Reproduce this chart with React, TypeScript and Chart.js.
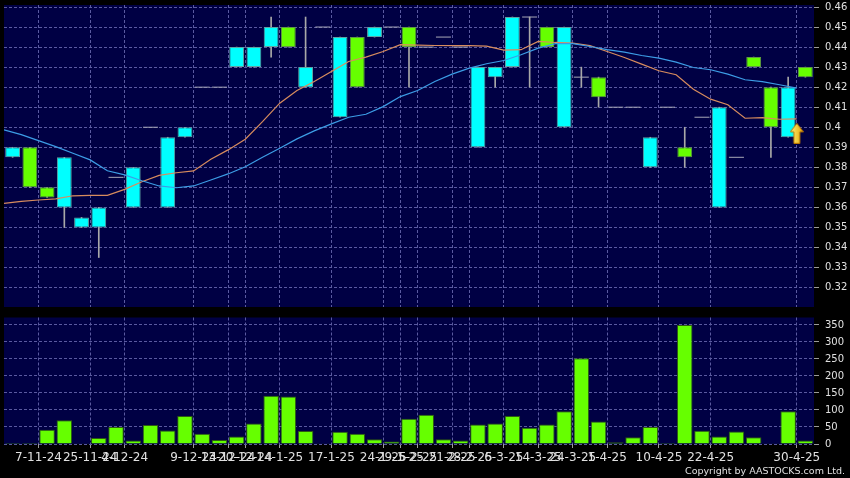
import React, { useEffect, useRef } from 'react';
import { Chart, registerables } from 'chart.js';

Chart.register(...registerables);

// ---- Data (one entry per traded session, left to right) ----
const opens = [
  0.385, 0.39, 0.37, 0.36, 0.35, 0.35, 0.375, 0.36, 0.4, 0.36,
  0.395, 0.42, 0.42, 0.43, 0.43, 0.44, 0.45, 0.42, 0.45, 0.405,
  0.445, 0.445, 0.45, 0.45, 0.44, 0.445, 0.44, 0.39, 0.425, 0.43,
  0.455, 0.45, 0.4, 0.425, 0.425, 0.41, 0.41, 0.38, 0.41, 0.39,
  0.405, 0.36, 0.385, 0.435, 0.42, 0.395, 0.43,
];
const highs = [
  0.39, 0.39, 0.37, 0.385, 0.355, 0.36, 0.375, 0.38, 0.4, 0.395,
  0.4, 0.42, 0.42, 0.44, 0.44, 0.455, 0.45, 0.455, 0.45, 0.445,
  0.445, 0.45, 0.45, 0.45, 0.44, 0.445, 0.44, 0.43, 0.43, 0.455,
  0.455, 0.45, 0.45, 0.43, 0.425, 0.41, 0.41, 0.395, 0.41, 0.4,
  0.405, 0.41, 0.385, 0.435, 0.42, 0.425, 0.43,
];
const lows = [
  0.385, 0.37, 0.365, 0.35, 0.35, 0.335, 0.375, 0.36, 0.4, 0.36,
  0.395, 0.42, 0.42, 0.43, 0.43, 0.435, 0.44, 0.42, 0.45, 0.405,
  0.42, 0.445, 0.45, 0.42, 0.44, 0.445, 0.44, 0.39, 0.42, 0.43,
  0.42, 0.44, 0.4, 0.42, 0.41, 0.41, 0.41, 0.38, 0.41, 0.38,
  0.405, 0.36, 0.385, 0.43, 0.385, 0.395, 0.425,
];
const closes = [
  0.39, 0.37, 0.365, 0.385, 0.355, 0.36, 0.375, 0.38, 0.4, 0.395,
  0.4, 0.42, 0.42, 0.44, 0.44, 0.45, 0.44, 0.43, 0.45, 0.445,
  0.42, 0.45, 0.45, 0.44, 0.44, 0.445, 0.44, 0.43, 0.43, 0.455,
  0.455, 0.44, 0.45, 0.425, 0.415, 0.41, 0.41, 0.395, 0.41, 0.385,
  0.405, 0.41, 0.385, 0.43, 0.4, 0.42, 0.425,
];
const volumes = [
  3, 3, 42, 70, 2, 18, 50, 10, 56, 40,
  82, 30, 12, 22, 60, 142, 140, 38, 1, 36,
  30, 14, 7, 74, 86, 14, 10, 57, 60, 82,
  48, 57, 96, 252, 66, 5, 20, 50, 3, 350,
  39, 22, 37, 20, 2, 96, 10,
];
// moving averages, read per session
const maFast = [
  0.362, 0.363, 0.3637, 0.3643, 0.3658, 0.366, 0.366, 0.369, 0.3728, 0.376,
  0.3773, 0.3782, 0.384, 0.3887, 0.394, 0.4028, 0.412, 0.4183, 0.4228, 0.4278,
  0.4328, 0.435, 0.4378, 0.4412, 0.441, 0.4408, 0.4407, 0.4407, 0.4405, 0.4385,
  0.4387, 0.4428, 0.4423, 0.442, 0.4407, 0.4378, 0.4348, 0.4315, 0.4282, 0.4262,
  0.419, 0.414, 0.4112, 0.4045, 0.4048, 0.404, 0.4042,
];
const maSlow = [
  0.3987, 0.3963, 0.3933, 0.3903, 0.387, 0.3837, 0.3783, 0.3762, 0.3733, 0.3707,
  0.3698, 0.3707, 0.3737, 0.3767, 0.3803, 0.385, 0.3895, 0.3942, 0.3982, 0.4017,
  0.405, 0.4065, 0.4103, 0.4153, 0.4183, 0.4228, 0.4265, 0.4295, 0.4317, 0.4333,
  0.4362, 0.4395, 0.4417, 0.4417, 0.4403, 0.4387, 0.4375, 0.4358, 0.4345, 0.4325,
  0.4298, 0.4287, 0.4265, 0.4237, 0.4228, 0.4212, 0.4195,
];
// date ticks: session index where the label sits, and its text
const tickIndex = [2, 5, 7, 11, 13, 14, 16, 19, 22, 23, 24, 26, 27, 29, 31, 33, 35, 38, 41, 46];
const tickText = [
  '7-11-24', '25-11-24', '4-12-24', '9-12-24', '13-12-24', '20-12-24', '14-1-25',
  '17-1-25', '24-1-25', '29-1-25', '5-2-25', '21-2-25', '28-2-25', '6-3-25',
  '14-3-25', '24-3-25', '1-4-25', '10-4-25', '22-4-25', '30-4-25',
];
const priceTicks = [0.32, 0.33, 0.34, 0.35, 0.36, 0.37, 0.38, 0.39, 0.4, 0.41, 0.42, 0.43, 0.44, 0.45, 0.46];
const volumeTicks = [0, 50, 100, 150, 200, 250, 300, 350];
const signalIndex = [46];
const signalPrice = [0.397];

// ---- Styles ----
const NAVY = '#000044';
const GRID = '#5a5aa0';
const TICK = '#9a9a9a';
const LABEL = '#e0e0e0';
const CYAN = '#00ffff';
const CYAN_EDGE = '#5fa3a3';
const GREEN = '#66ff00';
const GREEN_EDGE = '#5f9a40';
const WICK = '#a8a8a8';
const DOJI = '#a8a8b8';
const BLUE = '#3c9de6';
const ORANGE = '#d88c5e';
const VOL = '#66ff00';
const VOL_EDGE = '#2e5a12';
const FONT = "'DejaVu Sans', 'Verdana', sans-serif";

Chart.defaults.font.family = FONT;

const categories = opens.map((_, i) => String(i + 1));
const tickSet = new Set(tickIndex);
const tickLabelMap = new Map(tickIndex.map((idx, i) => [idx, tickText[i]]));
const gridX = (ctx: any) => (tickSet.has(ctx.index) ? GRID : 'rgba(0,0,0,0)');
const tickX = (ctx: any) => (tickSet.has(ctx.index) ? TICK : 'rgba(0,0,0,0)');

const plotBg = {
  id: 'plotBg',
  beforeDraw(chart: any) {
    const { ctx, chartArea: a } = chart;
    ctx.save();
    ctx.fillStyle = NAVY;
    ctx.fillRect(a.left, a.top, a.right - a.left, a.bottom - a.top);
    ctx.restore();
  },
};

function makeArrow(): HTMLCanvasElement {
  const c = document.createElement('canvas');
  c.width = 14;
  c.height = 21;
  const g = c.getContext('2d')!;
  const grad = g.createLinearGradient(0, 0, 14, 0);
  grad.addColorStop(0, '#fff27a');
  grad.addColorStop(1, '#e6a400');
  g.beginPath();
  g.moveTo(7, 0.5);
  g.lineTo(13.5, 9);
  g.lineTo(10, 9);
  g.lineTo(10, 20.5);
  g.lineTo(4, 20.5);
  g.lineTo(4, 9);
  g.lineTo(0.5, 9);
  g.closePath();
  g.fillStyle = grad;
  g.fill();
  g.strokeStyle = '#b87400';
  g.lineWidth = 1;
  g.stroke();
  return c;
}

const isUp = (i: number) => closes[i] > opens[i];

export default function App() {
  const priceRef = useRef<HTMLCanvasElement>(null);
  const volRef = useRef<HTMLCanvasElement>(null);

  useEffect(() => {
    const arrow = makeArrow();
    const price = new Chart(priceRef.current!, {
      type: 'bar',
      data: {
        labels: categories,
        datasets: [
          {
            type: 'bar',
            label: 'range',
            data: lows.map((l, i) => (highs[i] > l ? [l, highs[i]] : null)) as any,
            backgroundColor: WICK,
            borderWidth: 0,
            barThickness: 1,
            grouped: false,
            order: 4,
          } as any,
          {
            type: 'bar',
            label: 'body',
            data: opens.map((o, i) => (o !== closes[i] ? [o, closes[i]] : null)) as any,
            backgroundColor: (ctx: any) => (isUp(ctx.dataIndex) ? CYAN : GREEN),
            borderColor: (ctx: any) => (isUp(ctx.dataIndex) ? CYAN_EDGE : GREEN_EDGE),
            borderWidth: 1,
            borderSkipped: false,
            barPercentage: 0.86,
            categoryPercentage: 1,
            grouped: false,
            order: 3,
          } as any,
          {
            type: 'line',
            label: 'unchanged',
            data: opens.map((o, i) => (o === closes[i] ? o : null)),
            showLine: false,
            pointStyle: 'line',
            pointRadius: 7.5,
            pointHoverRadius: 7.5,
            pointBorderColor: DOJI,
            pointBorderWidth: 1,
            order: 2,
          } as any,
          {
            type: 'line',
            label: 'MA slow',
            xAxisID: 'xl',
            data: maSlow.map((v, i) => ({ x: i, y: v })),
            borderColor: BLUE,
            borderWidth: 1.2,
            pointRadius: 0,
            tension: 0,
            order: 1,
          } as any,
          {
            type: 'line',
            label: 'MA fast',
            xAxisID: 'xl',
            data: maFast.map((v, i) => ({ x: i, y: v })),
            borderColor: ORANGE,
            borderWidth: 1.2,
            pointRadius: 0,
            tension: 0,
            order: 1,
          } as any,
          {
            type: 'line',
            label: 'signal',
            xAxisID: 'xl',
            data: signalIndex.map((x, i) => ({ x, y: signalPrice[i] })),
            showLine: false,
            pointStyle: arrow,
            pointRadius: 10,
            order: 0,
          } as any,
        ],
      },
      options: {
        responsive: false,
        animation: false,
        events: [],
        layout: { autoPadding: false, padding: { left: 4, top: 5, right: 0, bottom: 3 } },
        plugins: { legend: { display: false }, tooltip: { enabled: false } },
        scales: {
          x: {
            type: 'category',
            offset: true,
            grid: { offset: true, color: gridX, drawTicks: false },
            border: { display: false, dash: [3, 2] },
            ticks: { display: false },
            afterFit: (s: any) => {
              s.height = 0;
              s.paddingLeft = 0;
              s.paddingRight = 0;
            },
          },
          xl: { type: 'linear', display: false, min: 0, max: 47, offset: false },
          y: {
            type: 'linear',
            position: 'right',
            min: 0.3103,
            max: 0.461,
            beginAtZero: false,
            grid: { color: GRID, tickColor: TICK, tickLength: 5 },
            border: { display: false, dash: [3, 2] },
            ticks: {
              color: LABEL,
              font: { size: 10 },
              padding: 6,
              callback: (v: any) => String(+Number(v).toFixed(2)),
            },
            afterBuildTicks: (s: any) => {
              s.ticks = priceTicks.map((v) => ({ value: v }));
            },
            afterFit: (s: any) => {
              s.width = 36;
              s.paddingTop = 0;
              s.paddingBottom = 0;
            },
          },
        },
      } as any,
      plugins: [plotBg],
    });

    const vol = new Chart(volRef.current!, {
      type: 'bar',
      data: {
        labels: categories,
        datasets: [
          {
            label: 'Volume',
            data: volumes,
            backgroundColor: VOL,
            borderColor: VOL_EDGE,
            borderWidth: 1,
            barPercentage: 0.9,
            categoryPercentage: 1,
          },
        ],
      },
      options: {
        responsive: false,
        animation: false,
        events: [],
        layout: { autoPadding: false, padding: { left: 4, top: 7.5, right: 0, bottom: 10 } },
        plugins: { legend: { display: false }, tooltip: { enabled: false } },
        scales: {
          x: {
            type: 'category',
            offset: true,
            grid: { offset: true, color: gridX, tickColor: tickX, tickLength: 4 },
            border: { display: false, dash: [3, 2] },
            ticks: {
              autoSkip: false,
              maxRotation: 0,
              minRotation: 0,
              color: LABEL,
              font: { size: 12 },
              padding: 3,
              labelOffset: -8.6,
              callback: (_v: any, i: number) => tickLabelMap.get(i) ?? '',
            },
            afterFit: (s: any) => {
              s.height = 24;
              s.paddingLeft = 0;
              s.paddingRight = 0;
            },
          },
          y: {
            type: 'linear',
            position: 'right',
            min: 0,
            max: 372,
            grid: { color: GRID, tickColor: TICK, tickLength: 5 },
            border: { display: false, dash: [3, 2] },
            ticks: { color: LABEL, font: { size: 10 }, padding: 6 },
            afterBuildTicks: (s: any) => {
              s.ticks = volumeTicks.map((v) => ({ value: v }));
            },
            afterFit: (s: any) => {
              s.width = 36;
              s.paddingTop = 0;
              s.paddingBottom = 0;
            },
          },
        },
      } as any,
      plugins: [plotBg],
    });

    return () => {
      price.destroy();
      vol.destroy();
    };
  }, []);

  return (
    <div
      style={{
        position: 'fixed',
        left: 0,
        top: 0,
        width: 850,
        height: 478,
        background: '#000',
        overflow: 'hidden',
      }}
    >
      <canvas ref={priceRef} width={850} height={310} style={{ position: 'absolute', left: 0, top: 0 }} />
      <canvas ref={volRef} width={850} height={168} style={{ position: 'absolute', left: 0, top: 310 }} />
      <div
        style={{
          position: 'absolute',
          right: 5,
          top: 466,
          fontFamily: FONT,
          fontSize: '9.5px',
          lineHeight: 1,
          color: '#e0e0e0',
          whiteSpace: 'nowrap',
        }}
      >
        Copyright by AASTOCKS.com Ltd.
      </div>
    </div>
  );
}
